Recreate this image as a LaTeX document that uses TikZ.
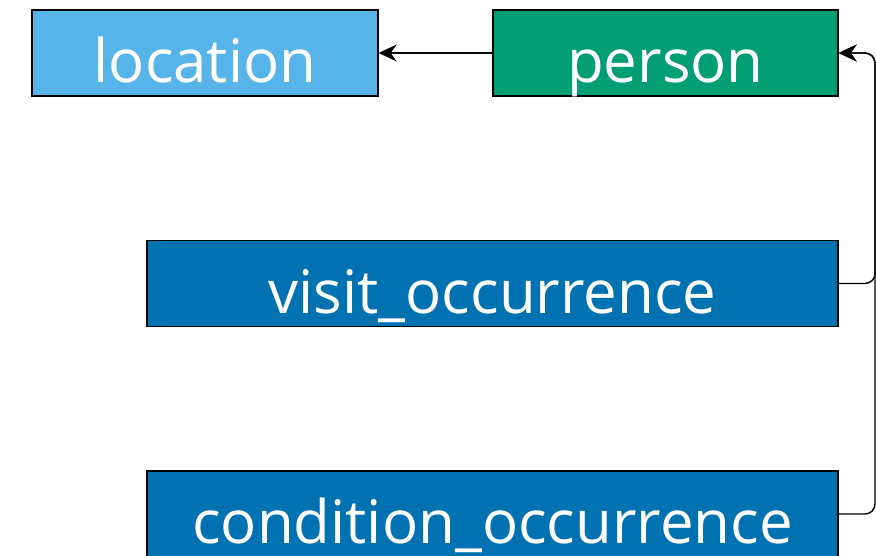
\documentclass[tikz,border=0pt]{standalone}
\usepackage{fontspec}
\setmainfont{Open Sans}
\usetikzlibrary{calc,arrows.meta}
\definecolor{locblue}{HTML}{56B4E9}
\definecolor{persgreen}{HTML}{009E73}
\definecolor{tabblue}{HTML}{0072B2}

\begin{document}
\begin{tikzpicture}[x=1pt,y=-1pt,
	]

	\tikzset{table/.style={
				draw=black,
				line width=1.4pt,
				inner sep=0pt,
				minimum height=86pt,
				text height=59pt,
				text depth=0pt,
				text=white,
				font=\fontsize{60}{60}\selectfont}
	}
	\tikzset{link/.style={
				-{Stealth[length=18pt,width=17pt,inset=6pt]},
				line width=1.4pt,
				rounded corners=10pt}
	}

	\useasboundingbox (0,0) rectangle (876,555);

	\node[table,fill=locblue,minimum width=346pt] (location) at (205,53) {location};
	\node[table,fill=persgreen,minimum width=345pt] (person) at (665.5,53) {person};

	\node[table,fill=tabblue,minimum width=691pt] (visit) at (492.5,283.5) {visit\_occurrence};
	\node[table,fill=tabblue,minimum width=691pt] (condition) at (492.5,514) {condition\_occurrence};

	% shared rail on the right side
	\coordinate (rail) at (875,0);

	\draw[link] (person) -- (location);
	\draw[link] (visit.east) -- (visit.east -| rail) |- (person.east);
	\draw[link] (condition.east) -- (condition.east -| rail) |- (person.east);

\end{tikzpicture}
\end{document}
